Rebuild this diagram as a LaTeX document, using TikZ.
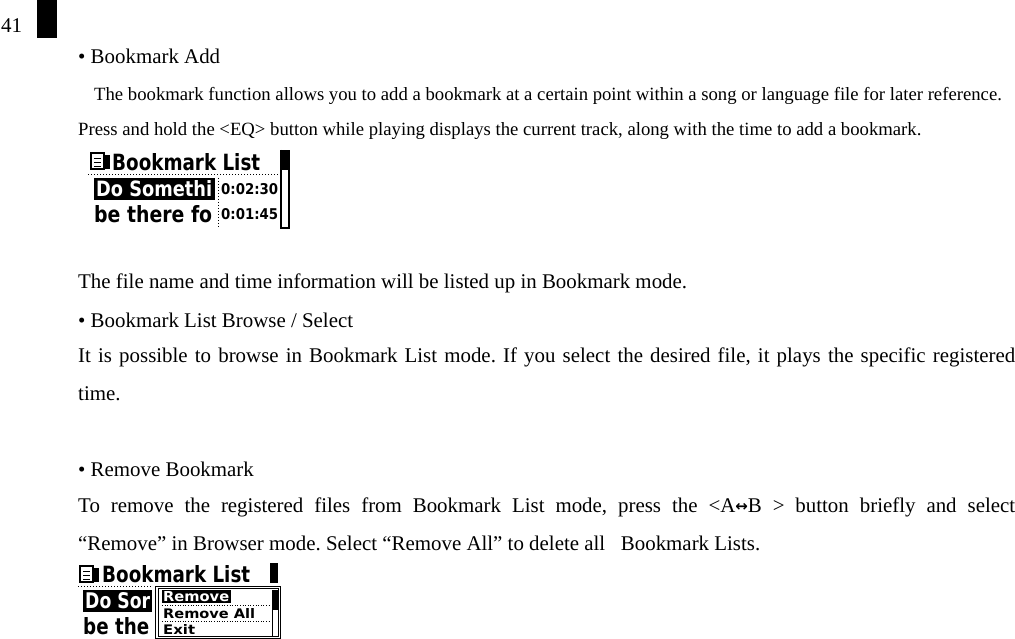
\documentclass[tikz,border=0pt]{standalone}
\usepackage{fontspec}
\setmainfont{Liberation Serif}
\newfontfamily\lcd{DejaVu Sans}
\frenchspacing
\begin{document}
\begin{tikzpicture}[x=1pt,y=-1pt,
  txt/.style={anchor=base west,inner sep=0pt,font=\fontsize{20.9}{38}\selectfont},
  sml/.style={anchor=base west,inner sep=0pt,font=\fontsize{18.7}{20}\selectfont},
  lcdt/.style={anchor=west,inner sep=0pt,font=\lcd\bfseries\fontsize{21}{21}\selectfont},
  lcds/.style={anchor=west,inner sep=0pt,font=\lcd\bfseries\fontsize{12}{12}\selectfont},
  dots/.style={dotted,line width=1pt}]
\useasboundingbox (0,0) rectangle (1015,639);
\node[anchor=west,inner sep=0pt,font=\fontsize{21}{21}\selectfont] (pg) at (1,26) {41};
\fill (37,0) rectangle (57,38);
\node[txt] (h1) at (78,64) {• Bookmark Add};
\node[sml] (l1) at (94,101) {The bookmark function allows you to add a bookmark at a certain point within a song or language file for later reference.};
\node[sml] (l2) at (78,136) {Press and hold the <EQ> button while playing displays the current track, along with the time to add a bookmark.};
% LCD 1
\begin{scope}
\draw[line width=1.2pt] (91,153) rectangle (104,169); \fill (104,155) rectangle (110,169);
\draw (94,158)--(101,158) (94,162)--(101,162) (94,166)--(101,166);
\node[lcdt] (b1) at (112,162) {\resizebox{148pt}{17pt}{Bookmark List}};
\fill (281,150) rectangle (289,170);
\draw[line width=1.2pt] (281,150) -- (281,228) -- (289,228) -- (289,150);
\draw[dots] (88,175) -- (280,175);
\fill (94,178) rectangle (215,200);
\node[lcdt,text=white] (d1) at (96,189) {\resizebox{116pt}{16pt}{Do Somethi}};
\draw[dots] (218,178) -- (218,228);
\node[lcds] (t1) at (221,189.5) {\resizebox{57pt}{11pt}{0:02:30}};
\node[lcdt] (e1) at (94,214) {\resizebox{118pt}{17pt}{be there fo}};
\node[lcds] (t2) at (221,214.5) {\resizebox{57pt}{11pt}{0:01:45}};
\end{scope}
\node[txt] (p1) at (78,288) {The file name and time information will be listed up in Bookmark mode.};
\node[txt] (h2) at (78,327) {• Bookmark List Browse / Select};
\node[txt,text width=937pt,align=justify,anchor=north west] (p2) at (78,348) {It is possible to browse in Bookmark List mode. If you select the desired file, it plays the specific registered\linebreak time.};
\node[txt] (h3) at (78,476) {• Remove Bookmark};
\node[txt,text width=937pt,align=justify,anchor=north west] (p3) at (78,498) {To remove the registered files from Bookmark List mode, press the <A\raisebox{1pt}{\lcd\bfseries\fontsize{15}{15}\selectfont ↔}B > button briefly and select\linebreak “Remove” in Browser mode. Select “Remove All” to delete all \ \ Bookmark Lists.};
% LCD 2
\begin{scope}
\draw[line width=1.2pt] (80,566) rectangle (93,582); \fill (93,568) rectangle (99,582);
\draw (83,571)--(90,571) (83,575)--(90,575) (83,579)--(90,579);
\node[lcdt] (b2) at (102,574.5) {\resizebox{148pt}{17pt}{Bookmark List}};
\fill (270,563) rectangle (278,583);
\draw[dots] (78,586) -- (152,586);
\fill (83,590) rectangle (152,612);
\node[lcdt,text=white] (d2) at (85,601) {\resizebox{65pt}{16pt}{Do Sor}};
\node[lcdt] (e2) at (83,626) {\resizebox{66pt}{17pt}{be the}};
\draw[line width=1pt] (155,586) rectangle (280,638);
\draw[line width=0.8pt] (158,588) rectangle (278,636);
\fill (162,590) rectangle (231,603);
\node[lcds,text=white] (r1) at (163,596.5) {\resizebox{66pt}{10pt}{Remove}};
\draw[dots,line width=0.6pt] (162,605) -- (270,605);
\node[lcds] (r2) at (163,613.5) {\resizebox{92pt}{10pt}{Remove All}};
\draw[dots,line width=0.6pt] (162,621) -- (270,621);
\node[lcds] (r3) at (163,629) {\resizebox{32pt}{10pt}{Exit}};
\fill (272,590) rectangle (278,610);
\draw (272,590) -- (272,636);
\end{scope}
\end{tikzpicture}
\end{document}
